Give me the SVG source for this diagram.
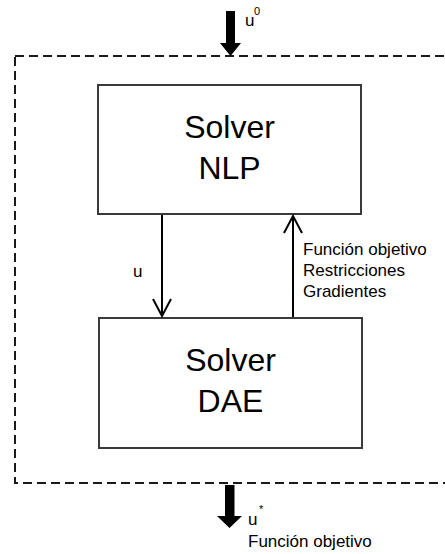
<svg xmlns="http://www.w3.org/2000/svg" width="445" height="554" viewBox="0 0 445 554">
  <style>
    .box { fill: #ffffff; stroke: #3a3a3a; stroke-width: 2; }
    .title { font-family: "Liberation Sans", Arial, sans-serif; font-size: 32px; fill: #000; text-anchor: middle; }
    .lbl { font-family: "Liberation Sans", Arial, sans-serif; font-size: 17px; fill: #000; }
    .sup { font-family: "Liberation Sans", Arial, sans-serif; font-size: 11px; fill: #000; }
    .link { fill: none; stroke: #000; stroke-width: 2; }
    .bound { fill: none; stroke: #1a1a1a; stroke-width: 2; stroke-dasharray: 9 5; }
  </style>
  <defs>
    <marker id="open" viewBox="0 0 20 20" refX="18" refY="10" markerWidth="20" markerHeight="20" markerUnits="userSpaceOnUse" orient="auto">
      <path d="M1,1 L18,10 L1,19" fill="none" stroke="#000" stroke-width="2"/>
    </marker>
  </defs>

  <rect width="445" height="554" fill="#ffffff"/>

  <!-- system boundary -->
  <rect class="bound" x="15" y="56" width="460" height="427"/>

  <g id="solver-nlp">
    <rect class="box" x="98" y="85" width="263" height="129"/>
    <text class="title" x="229.5" y="138">Solver</text>
    <text class="title" x="229.5" y="179">NLP</text>
  </g>

  <g id="solver-dae">
    <rect class="box" x="99" y="318" width="263" height="130"/>
    <text class="title" x="230.5" y="371">Solver</text>
    <text class="title" x="230.5" y="412">DAE</text>
  </g>

  <g id="connectors">
    <line class="link" x1="162" y1="215" x2="162" y2="316" marker-end="url(#open)"/>
    <line class="link" x1="293" y1="317" x2="293" y2="216" marker-end="url(#open)"/>
    <!-- initial guess in, optimum out -->
    <polygon points="226,11 235,11 235,43 241,43 230.5,56 220,43 226,43" fill="#000"/>
    <polygon points="225,485 234.5,485 234.5,516 242,516 229.5,528 217,516 225,516" fill="#000"/>
  </g>

  <g id="labels">
    <text class="lbl" x="133" y="277">u</text>
    <text class="lbl" x="303" y="255">Función objetivo</text>
    <text class="lbl" x="303" y="276">Restricciones</text>
    <text class="lbl" x="303" y="297">Gradientes</text>
    <text class="lbl" x="245" y="26">u</text>
    <text class="sup" x="254" y="15">0</text>
    <text class="lbl" x="248" y="525">u</text>
    <text class="sup" x="259" y="513">*</text>
    <text class="lbl" x="248" y="547">Función objetivo</text>
  </g>
</svg>
